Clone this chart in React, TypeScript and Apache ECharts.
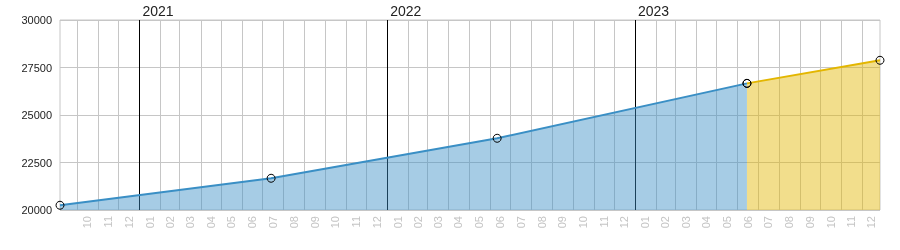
import React, { useEffect, useRef } from "react";
import * as echarts from "echarts";

// Dates (yyyy-mm-dd) and values of the marked points
const actualDates = ["2020-09-06", "2021-07-14", "2022-06-12", "2023-06-15"];
const actualValues = [20250, 21670, 23775, 26665];
const forecastDates = ["2023-06-15", "2023-12-28"];
const forecastValues = [26665, 27880];

const axisStart = "2020-09-06";
const axisEnd = "2023-12-28";
const yTicks = [20000, 22500, 25000, 27500, 30000];

const FONT = "'Liberation Sans', Arial, sans-serif";

function toTs(s: string): number {
  const [y, m, d] = s.split("-").map(Number);
  return new Date(y, m - 1, d).getTime();
}

// month starts within the axis range (tick positions)
function monthStarts(): number[][] {
  const out: number[][] = [];
  const s = new Date(toTs(axisStart));
  const e = toTs(axisEnd);
  let y = s.getFullYear();
  let m = s.getMonth() + 1;
  while (true) {
    if (m > 11) {
      m = 0;
      y += 1;
    }
    const t = new Date(y, m, 1).getTime();
    if (t > e) break;
    const next = new Date(y, m + 1, 1).getTime();
    out.push([t, m + 1, y, next]);
    m += 1;
  }
  return out;
}

export default function App() {
  const ref = useRef<HTMLDivElement>(null);
  useEffect(() => {
    if (!ref.current) return;
    const chart = echarts.init(ref.current, undefined, { renderer: "svg" });
    const yMin = yTicks[0];
    const yMax = yTicks[yTicks.length - 1];
    const xMin = toTs(axisStart);
    const xMax = toTs(axisEnd);
    const months = monthStarts();
    chart.setOption({
      animation: false,
      grid: {
        left: 60,
        right: 20,
        top: 20,
        bottom: 40,
        show: true,
        borderColor: "#c6c6c6",
        borderWidth: 1,
        backgroundColor: "transparent",
      },
      xAxis: {
        type: "time",
        min: xMin,
        max: xMax,
        axisLabel: { show: false },
        axisTick: { show: false },
        axisLine: { show: false },
        splitLine: { show: false },
      },
      yAxis: {
        type: "value",
        min: yMin,
        max: yMax,
        interval: 2500,
        axisLine: { show: false },
        axisTick: { show: false },
        axisLabel: {
          color: "#222",
          fontSize: 11,
          fontFamily: FONT,
          margin: 8,
          formatter: (v: number) => String(v),
        },
        splitLine: { lineStyle: { color: "#c6c6c6", width: 1 } },
      },
      series: [
        {
          type: "custom",
          z: 1,
          silent: true,
          clip: false,
          data: months,
          encode: { x: 0 },
          renderItem: (params: any, api: any) => {
            const t = api.value(0);
            const mon = api.value(1);
            const yr = api.value(2);
            const next = api.value(3);
            const top = api.coord([t, yMax]);
            const bot = api.coord([t, yMin]);
            const isYear = mon === 1;
            const children: any[] = [
              {
                type: "line",
                shape: { x1: Math.round(top[0]) + 0.5, y1: top[1], x2: Math.round(bot[0]) + 0.5, y2: bot[1] },
                style: { stroke: isYear ? "#000" : "#c6c6c6", lineWidth: 1 },
              },
            ];
            const mid = api.coord([(t + Math.min(next, xMax)) / 2, yMin]);
            children.push({
              type: "text",
              x: mid[0],
              y: bot[1] + 6,
              rotation: Math.PI / 2,
              style: {
                text: String(mon).padStart(2, "0"),
                x: 0,
                y: 0,
                align: "right",
                verticalAlign: "middle",
                fill: "#c4c4c4",
                fontSize: 11,
                fontFamily: FONT,
              },
            });
            if (isYear) {
              children.push({
                type: "text",
                x: top[0] + 3,
                y: top[1] - 2,
                style: {
                  text: String(yr),
                  x: 0,
                  y: 0,
                  align: "left",
                  verticalAlign: "bottom",
                  fill: "#222",
                  fontSize: 14,
                  fontFamily: FONT,
                },
              });
            }
            return { type: "group", children };
          },
        },
        {
          type: "line",
          z: 2,
          data: actualDates.map((d, i) => [toTs(d), actualValues[i]]),
          symbol: "circle",
          symbolSize: 8,
          showSymbol: true,
          lineStyle: { color: "#3a8fc5", width: 2 },
          itemStyle: { color: "rgba(0,0,0,0)", borderColor: "#000", borderWidth: 1 },
          areaStyle: { color: "#3a8fc5", opacity: 0.45, origin: "start" },
        },
        {
          type: "line",
          z: 2,
          data: forecastDates.map((d, i) => [toTs(d), forecastValues[i]]),
          symbol: "circle",
          symbolSize: 8,
          showSymbol: true,
          lineStyle: { color: "#e3b600", width: 2 },
          itemStyle: { color: "rgba(0,0,0,0)", borderColor: "#000", borderWidth: 1 },
          areaStyle: { color: "#e3b600", opacity: 0.45, origin: "start" },
        },
      ],
    });
    return () => chart.dispose();
  }, []);
  return (
    <div
      ref={ref}
      style={{ position: "fixed", left: 0, top: 0, width: 900, height: 250 }}
    />
  );
}
